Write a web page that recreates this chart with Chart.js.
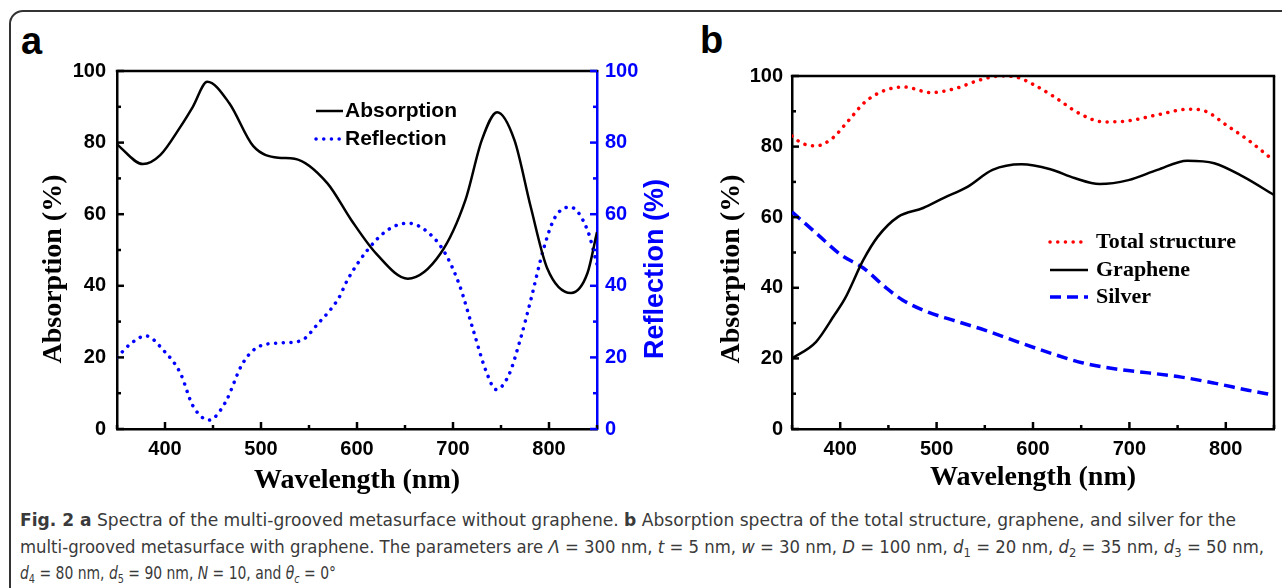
<!DOCTYPE html>
<html lang="en">
<head>
<meta charset="UTF-8">
<title>Fig. 2 spectra</title>
<script src="https://cdn.jsdelivr.net/npm/chart.js"></script>
<style>
body {
  margin:0;
  width:1282px;
  height:588px;
  overflow:hidden;
  background:#fff;
  position:relative;
  font-family:"Liberation Sans", Arial, sans-serif;
}
#frame {
  position:absolute; left:9px; top:10px;
  width:1300px; height:600px;
  border:2px solid #333;
  border-top-left-radius:14px;
}
.panel { position:absolute; top:0; }
.letter { position:absolute; font:bold 38px "Liberation Sans", Arial, sans-serif; line-height:38px; }
.cap {
  position:absolute; left:20px;
  white-space:nowrap;
  font-size:17px; line-height:20px;
  color:#3a3a3a;
  font-family:"Liberation Sans Narrow", "DejaVu Sans Condensed", "Liberation Sans", sans-serif;
  transform-origin:0 0;
}
.cap sub { font-size:0.7em; vertical-align:-0.3em; line-height:0; }
</style>
</head>
<body>

<div id="frame"></div>
<div class="letter" style="left:21px;top:22px">a</div>
<div class="letter" style="left:700px;top:21px">b</div>

<canvas id="chartA" class="panel" style="left:0" width="680" height="500"></canvas>
<canvas id="chartB" class="panel" style="left:680px" width="602" height="500"></canvas>

<div class="cap" style="top:510px" data-w="1216"><b>Fig. 2 a</b> Spectra of the multi-grooved metasurface without graphene. <b>b</b> Absorption spectra of the total structure, graphene, and silver for the</div>
<div class="cap" style="top:537px" data-w="1244">multi-grooved metasurface with graphene. The parameters are <i>Λ</i> = 300 nm, <i>t</i> = 5 nm, <i>w</i> = 30 nm, <i>D</i> = 100 nm, <i>d</i><sub>1</sub> = 20 nm, <i>d</i><sub>2</sub> = 35 nm, <i>d</i><sub>3</sub> = 50 nm,</div>
<div class="cap" style="top:563px" data-w="316"><i>d</i><sub>4</sub> = 80 nm, <i>d</i><sub>5</sub> = 90 nm, <i>N</i> = 10, and <i>θ</i><sub><i>c</i></sub> = 0°</div>

<script>
// ticks
const xMajor = [400, 500, 600, 700, 800];
const xMinor = [350, 450, 550, 650, 750, 850];
const yMajor = [0, 20, 40, 60, 80, 100];
const yMinor = [10, 30, 50, 70, 90];

// panel a - without graphene
const absWl  = [350, 377, 395, 416, 429, 444, 467, 492, 518, 535, 569, 594, 620, 653, 687, 713, 730, 746, 764, 781, 798, 823, 840, 850];
const absVal = [79.5, 74, 76.5, 84.4, 90, 97, 91, 79, 75.8, 75.5, 68.7, 58.4, 49, 42, 49, 64, 80.7, 88.5, 80.7, 62, 45, 38, 43.5, 55];
const refWl  = [350, 365, 380, 399, 416, 429, 446, 463, 480, 495, 518, 541, 560, 581, 590, 611, 632, 653, 675, 692, 707, 721, 734, 745, 758, 770, 781, 794, 806, 822, 840, 850];
const refVal = [20, 24, 26, 21.8, 15.6, 6.5, 2.5, 7.5, 17.9, 22.6, 24, 24.6, 29.6, 36.6, 41.6, 50, 55.6, 57.5, 54.7, 49, 40, 27.7, 16.5, 11, 15, 24.9, 36, 50, 59, 62, 55.6, 46];

// panel b - with graphene
const totWl  = [350, 360, 375, 392, 409, 426, 447, 466, 494, 520, 545, 567, 584, 601, 622, 648, 673, 699, 729, 762, 780, 801, 823, 850];
const totVal = [83, 81, 80.2, 82.4, 87.5, 92.7, 96, 96.9, 95.3, 96.5, 98.9, 100, 99.6, 97.5, 94.1, 89.4, 87, 87.3, 89, 90.6, 89.9, 86, 81.9, 76];
const graWl  = [350, 375, 394, 405, 424, 439, 460, 486, 507, 532, 558, 588, 618, 643, 669, 699, 729, 760, 788, 818, 850];
const graVal = [20, 24.7, 32.3, 37, 47.9, 54.5, 60.1, 62.6, 65.4, 68.6, 73.4, 75, 73.6, 71.1, 69.4, 70.5, 73.4, 76, 75.3, 71.5, 66.3];
const silWl  = [350, 375, 401, 424, 448, 465, 490, 516, 550, 584, 618, 652, 686, 720, 754, 788, 823, 850];
const silVal = [61.5, 55.5, 49.3, 45.6, 39.9, 36.5, 33.2, 30.9, 28, 24.7, 21.5, 18.7, 17, 15.9, 14.7, 13, 11, 9.6];

const BLUE = '#0000ff';
const SANS = '"Liberation Sans", Arial, sans-serif';
const SERIF = '"Liberation Serif", "Times New Roman", serif';

Chart.defaults.font.family = SANS;
Chart.defaults.color = '#000';

function pts(xs, ys) {
  return xs.map((x, i) => ({x: x, y: ys[i]}));
}

// inward ticks, top/right frame, rotated y titles, legend inside the plot
const decor = {
  id: 'decor',
  afterDraw(chart, args, o) {
    const {ctx, chartArea: a} = chart;
    const xs = chart.scales.x;
    const seg = (x1, y1, x2, y2, c) => {
      ctx.strokeStyle = c;
      ctx.beginPath(); ctx.moveTo(x1, y1); ctx.lineTo(x2, y2); ctx.stroke();
    };
    ctx.save();
    ctx.lineWidth = 2.5;
    ctx.lineCap = 'butt';
    seg(a.left - 1.2, a.top, a.right + 1.2, a.top, '#000');
    if (o.boxRight) seg(a.right, a.top, a.right, a.bottom, '#000');

    xMajor.forEach(v => { const p = xs.getPixelForValue(v); seg(p, a.bottom, p, a.bottom - 7, '#000'); });
    xMinor.forEach(v => { const p = xs.getPixelForValue(v); seg(p, a.bottom, p, a.bottom - 4, '#000'); });

    o.yAxes.forEach(ax => {
      const s = chart.scales[ax.id];
      const dir = ax.side === 'left' ? 1 : -1;
      const x0 = ax.side === 'left' ? a.left : a.right;
      yMajor.forEach(v => { const p = s.getPixelForValue(v); seg(x0, p, x0 + dir * 7, p, ax.color); });
      yMinor.forEach(v => { const p = s.getPixelForValue(v); seg(x0, p, x0 + dir * 4, p, ax.color); });
    });

    o.titles.forEach(t => {
      ctx.save();
      ctx.translate(t.x, t.y);
      ctx.rotate(-Math.PI / 2);
      ctx.font = t.font;
      ctx.fillStyle = t.color;
      ctx.textAlign = 'center';
      ctx.textBaseline = 'middle';
      ctx.fillText(t.text, 0, 0);
      ctx.restore();
    });

    const L = o.legend;
    chart.data.datasets.forEach((ds, i) => {
      const y = a.top + L.rows[i];
      const x0 = a.left + L.x;
      ctx.save();
      ctx.strokeStyle = ds.borderColor;
      ctx.lineWidth = ds.borderWidth;
      ctx.setLineDash(ds.borderDash || []);
      ctx.lineCap = ds.borderCapStyle || 'butt';
      ctx.beginPath(); ctx.moveTo(x0, y); ctx.lineTo(x0 + L.len, y); ctx.stroke();
      ctx.restore();
      ctx.font = L.font;
      ctx.fillStyle = '#000';
      ctx.textAlign = 'left';
      ctx.textBaseline = 'middle';
      ctx.fillText(ds.label, x0 + L.len + L.gap, y);
    });
    ctx.restore();
  }
};

function xScale(titlePad) {
  return {
    type: 'linear', min: 350, max: 850,
    afterBuildTicks: s => { s.ticks = xMajor.map(v => ({value: v})); },
    afterFit: s => { s.height = 71; },
    grid: {display: false, drawTicks: false},
    border: {display: true, color: '#000', width: 2.5},
    ticks: {font: {size: 20, weight: 'bold'}, padding: 8, maxRotation: 0},
    title: {display: true, text: 'Wavelength (nm)', font: {family: SERIF, size: 28, weight: 'bold'}, padding: {top: 0, bottom: titlePad}}
  };
}

function yScale(pos, width, pad, color) {
  return {
    type: 'linear', position: pos, min: 0, max: 100,
    afterBuildTicks: s => { s.ticks = yMajor.map(v => ({value: v})); },
    afterFit: s => { s.width = width; },
    grid: {display: false, drawTicks: false},
    border: {display: true, color: color, width: 2.5},
    ticks: {font: {size: 20, weight: 'bold'}, color: color, padding: pad}
  };
}

new Chart(document.getElementById('chartA'), {
  type: 'line',
  data: {
    datasets: [
      {label: 'Absorption', data: pts(absWl, absVal), yAxisID: 'y',
       borderColor: '#000', borderWidth: 2.5, pointRadius: 0, cubicInterpolationMode: 'monotone'},
      {label: 'Reflection', data: pts(refWl, refVal), yAxisID: 'y2',
       borderColor: BLUE, borderWidth: 3.5, borderDash: [0.1, 7.6], borderCapStyle: 'round',
       pointRadius: 0, cubicInterpolationMode: 'monotone'}
    ]
  },
  options: {
    responsive: false,
    animation: false,
    layout: {padding: {top: 71, left: 0, right: 0, bottom: 0}},
    scales: {
      x: xScale(2),
      y: yScale('left', 117, 11, '#000'),
      y2: yScale('right', 83, 8, BLUE)
    },
    plugins: {
      legend: {display: false},
      tooltip: {enabled: false},
      decor: {
        boxRight: false,
        yAxes: [{id: 'y', side: 'left', color: '#000'}, {id: 'y2', side: 'right', color: BLUE}],
        titles: [
          {text: 'Absorption (%)', x: 54, y: 269, font: 'bold 28px ' + SERIF, color: '#000'},
          {text: 'Reflection (%)', x: 656, y: 269, font: 'bold 27px ' + SANS, color: BLUE}
        ],
        legend: {x: 199, rows: [40, 68], len: 27, gap: 2, font: 'bold 21px ' + SANS}
      }
    }
  },
  plugins: [decor]
});

new Chart(document.getElementById('chartB'), {
  type: 'line',
  data: {
    datasets: [
      {label: 'Total structure', data: pts(totWl, totVal),
       borderColor: '#ff0000', borderWidth: 3.5, borderDash: [0.1, 7.6], borderCapStyle: 'round',
       pointRadius: 0, cubicInterpolationMode: 'monotone'},
      {label: 'Graphene', data: pts(graWl, graVal),
       borderColor: '#000', borderWidth: 2.5, pointRadius: 0, cubicInterpolationMode: 'monotone'},
      {label: 'Silver', data: pts(silWl, silVal),
       borderColor: BLUE, borderWidth: 3.5, borderDash: [11, 6],
       pointRadius: 0, cubicInterpolationMode: 'monotone'}
    ]
  },
  options: {
    responsive: false,
    animation: false,
    layout: {padding: {top: 76, left: 0, right: 8, bottom: 0}},
    scales: {
      x: xScale(5),
      y: yScale('left', 112, 9, '#000')
    },
    plugins: {
      legend: {display: false},
      tooltip: {enabled: false},
      decor: {
        boxRight: true,
        yAxes: [{id: 'y', side: 'left', color: '#000'}],
        titles: [
          {text: 'Absorption (%)', x: 52, y: 269, font: 'bold 28px ' + SERIF, color: '#000'}
        ],
        legend: {x: 258, rows: [166, 194, 221], len: 38, gap: 8, font: 'bold 22px ' + SERIF}
      }
    }
  },
  plugins: [decor]
});

// squeeze caption lines to the reference widths
document.querySelectorAll('.cap').forEach(el => {
  const w = el.getBoundingClientRect().width;
  el.style.transform = 'scaleX(' + (el.dataset.w / w) + ')';
});
</script>

</body>
</html>
